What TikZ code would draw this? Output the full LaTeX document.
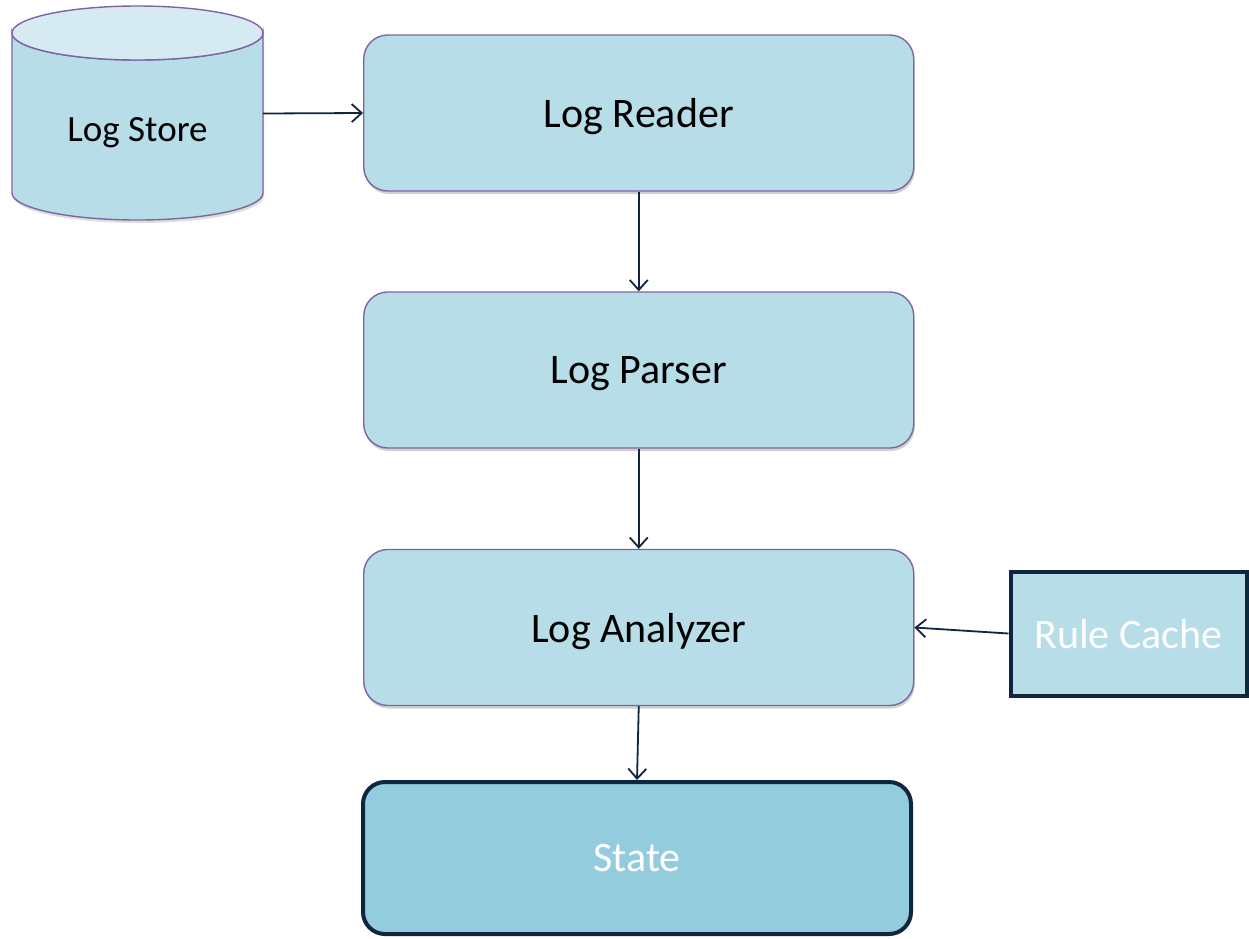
\documentclass[tikz,border=0pt]{standalone}
\usepackage{fontspec}
\setmainfont{Carlito}
\usetikzlibrary{arrows.meta,shadows}

\definecolor{boxfill}{HTML}{B7DDE8}
\definecolor{boxedge}{HTML}{8064A2}
\definecolor{topfill}{HTML}{D5EAF1}
\definecolor{statefill}{HTML}{93CDDD}
\definecolor{navy}{HTML}{10253F}

\tikzset{
  softshadow/.style={drop shadow={shadow xshift=1pt, shadow yshift=-3pt, opacity=0.3, fill=black!60}},
  labelfont/.style={font=\fontsize{42}{46}\selectfont, text depth=0pt},
  stagebox/.style={draw=boxedge, line width=1.4pt, fill=boxfill, rounded corners=24pt,
    minimum width=550pt, minimum height=156pt, inner sep=0pt, softshadow,
    labelfont, text=black},
  statebox/.style={draw=navy, line width=4pt, fill=statefill, rounded corners=22pt,
    minimum width=548pt, minimum height=152pt, inner sep=0pt,
    labelfont, text=white},
  cachebox/.style={draw=navy, line width=4pt, fill=boxfill,
    minimum width=236pt, minimum height=124pt, inner sep=0pt,
    labelfont, text=white},
  flow/.style={draw=navy, line width=1.8pt, -{Straight Barb[length=10pt,width=18pt,line width=1.8pt]}},
}

\begin{document}
\begin{tikzpicture}[x=1pt, y=-1pt]
  \useasboundingbox (0,0) rectangle (1249,938);
  \fill[white] (0,0) rectangle (1249,938);

  % Log Store cylinder
  \node (store) [minimum width=251pt, minimum height=214pt, inner sep=0pt] at (137.5,113.5) {};
  \fill[black!60, opacity=0.22] (13,36) -- (13,196) arc[start angle=180, end angle=0, x radius=125.5, y radius=27] -- (264,36) -- cycle;
  \filldraw[fill=boxfill, draw=boxedge, line width=1.4pt]
    (12,33) -- (12,193) arc[start angle=180, end angle=0, x radius=125.5, y radius=27]
    -- (263,33) arc[start angle=0, end angle=180, x radius=125.5, y radius=27] -- cycle;
  \filldraw[fill=topfill, draw=boxedge, line width=1.4pt] (137.5,33) ellipse[x radius=125.5, y radius=27];
  \node (storelabel) [font=\fontsize{37}{41}\selectfont, text depth=0pt, text=black] at (137.5,129) {Log Store};

  % Pipeline stages
  \node (reader)   [stagebox] at (638.75,113)   {Log Reader};
  \node (parser)   [stagebox] at (638.75,370)   {Log Parser};
  \node (analyzer) [stagebox] at (638.75,627.5) {Log Analyzer};
  \node (state)    [statebox] at (637,858)      {State};
  \node (cache)    [cachebox] at (1128.5,633.5) {Rule Cache};

  % Connectors
  \draw[flow] (store.east) -- (reader.west);
  \draw[flow] (reader.south) -- (parser.north);
  \draw[flow] (parser.south) -- (analyzer.north);
  \draw[flow] (analyzer.south) -- (state.north);
  \draw[flow] (cache.west) -- (analyzer.east);
\end{tikzpicture}
\end{document}
